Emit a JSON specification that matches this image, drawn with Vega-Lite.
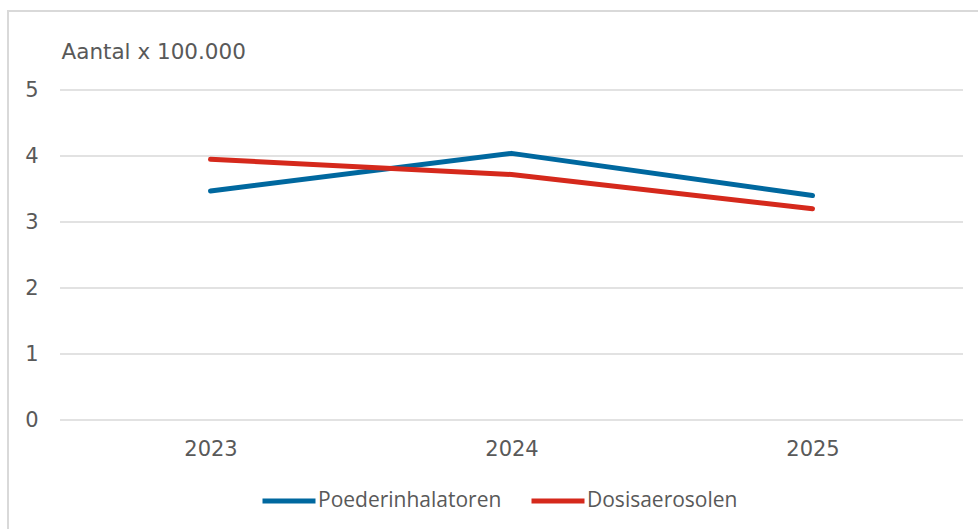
{
  "$schema": "https://vega.github.io/schema/vega-lite/v6.json",
  "width": 970,
  "height": 518,
  "autosize": {"type": "none"},
  "padding": {"left": 8, "top": 11, "right": 0, "bottom": 0},
  "background": "white",
  "config": {
    "view": {"stroke": "#d9d9d9", "strokeWidth": 2, "strokeDash": [970, 1488, 518]},
    "font": "DejaVu Sans"
  },
  "datasets": {
    "series": [
      {"jaar": "2023", "reeks": "Poederinhalatoren", "aantal": 3.47},
      {"jaar": "2024", "reeks": "Poederinhalatoren", "aantal": 4.04},
      {"jaar": "2025", "reeks": "Poederinhalatoren", "aantal": 3.4},
      {"jaar": "2023", "reeks": "Dosisaerosolen", "aantal": 3.95},
      {"jaar": "2024", "reeks": "Dosisaerosolen", "aantal": 3.72},
      {"jaar": "2025", "reeks": "Dosisaerosolen", "aantal": 3.2}
    ],
    "grid": [{"v": 0}, {"v": 1}, {"v": 2}, {"v": 3}, {"v": 4}, {"v": 5}]
  },
  "layer": [
    {
      "data": {"name": "grid"},
      "mark": {"type": "rule", "color": "#d9d9d9", "strokeWidth": 1.5},
      "encoding": {
        "y": {
          "field": "v",
          "type": "quantitative",
          "scale": {"domain": [0, 5], "range": [409, 79], "nice": false, "zero": true},
          "axis": {
            "values": [0, 1, 2, 3, 4, 5],
            "format": "d",
            "grid": false,
            "ticks": false,
            "domain": false,
            "offset": -52,
            "labelPadding": 22,
            "labelFontSize": 21,
            "labelColor": "#595959",
            "labelFont": "DejaVu Sans",
            "title": "Aantal x 100.000",
            "titleAngle": 0,
            "titleAlign": "left",
            "titleBaseline": "alphabetic",
            "titleX": 1,
            "titleY": 47,
            "titleFontSize": 21.5,
            "titleFontWeight": "normal",
            "titleColor": "#595959",
            "titleFont": "DejaVu Sans"
          }
        },
        "x": {"datum": 0, "type": "quantitative", "scale": {"domain": [0, 1], "range": [52, 955]}, "axis": null},
        "x2": {"datum": 1}
      }
    },
    {
      "data": {"name": "series"},
      "mark": {"type": "line", "strokeWidth": 5, "strokeCap": "round", "strokeJoin": "round"},
      "encoding": {
        "x": {
          "field": "jaar",
          "type": "ordinal",
          "scale": {"type": "point", "range": [52, 955], "padding": 0.5},
          "axis": {
            "orient": "bottom",
            "offset": -109,
            "ticks": false,
            "domain": false,
            "grid": false,
            "labelAngle": 0,
            "labelPadding": 18,
            "labelFontSize": 21,
            "labelColor": "#595959",
            "labelFont": "DejaVu Sans",
            "title": null
          }
        },
        "y": {"field": "aantal", "type": "quantitative"},
        "color": {
          "field": "reeks",
          "type": "nominal",
          "scale": {"domain": ["Poederinhalatoren", "Dosisaerosolen"], "range": ["#00689f", "#d5291c"]},
          "legend": {
            "orient": "none",
            "direction": "horizontal",
            "legendX": 252,
            "legendY": 461,
            "title": null,
            "padding": 0,
            "symbolType": "stroke",
            "symbolSize": 2809,
            "symbolStrokeWidth": 5,
            "labelOffset": 0,
            "columnPadding": 19,
            "labelFontSize": 21,
            "labelFont": "Open Sans",
            "labelColor": "#595959",
            "labelLimit": 400
          }
        }
      }
    }
  ],
  "resolve": {"scale": {"x": "independent"}}
}
